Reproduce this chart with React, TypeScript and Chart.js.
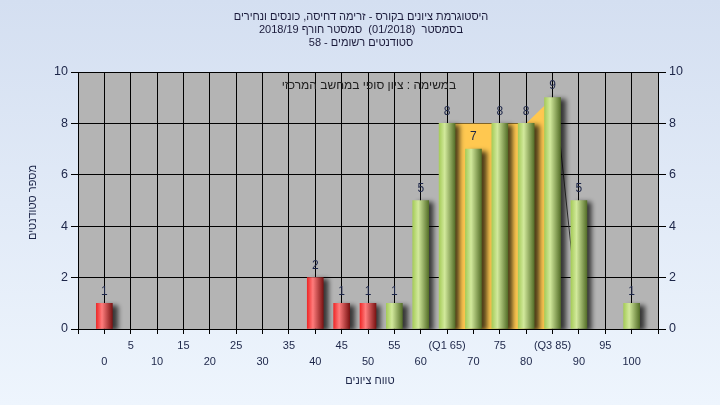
import React, { useEffect, useRef } from 'react';
import { Chart, registerables } from 'chart.js';

Chart.register(...registerables);

// ---- data ----
const scoreBins = [0, 5, 10, 15, 20, 25, 30, 35, 40, 45, 50, 55, 60, 65, 70, 75, 80, 85, 90, 95, 100];
const studentCounts = [1, 0, 0, 0, 0, 0, 0, 0, 2, 1, 1, 1, 5, 8, 7, 8, 8, 9, 5, 0, 1];
const passThreshold = 55;
const quartileX = [65, 70, 75, 80, 85];
const quartileTop = [8, 8, 8, 8, 9];
const whiskerX = [86.5, 88.6];
const whiskerY = [7.1, 3.0];
const yTickValues = [0, 2, 4, 6, 8, 10];
const specialTickLabels: Record<number, string> = { 65: '(Q1 65)', 85: '(Q3 85)' };
const titleLines = [
  'היסטוגרמת ציונים בקורס - זרימה דחיסה, כונסים ונחירים',
  'בסמסטר  (01/2018)  סמסטר חורף 2018/19',
  'סטודנטים רשומים - 58',
];
const annotationText = 'במשימה : ציון סופי במחשב המרכזי';
const xAxisTitle = 'טווח ציונים';
const yAxisTitle = 'מספר סטודנטים';

const FONT = '"Liberation Sans", Arial, sans-serif';
const TEXT_COLOR = '#1c2548';

export default function App() {
  const ref = useRef<HTMLCanvasElement | null>(null);

  useEffect(() => {
    const canvas = ref.current;
    if (!canvas) return;
    Chart.defaults.font.family = FONT;

    const bgPlugin = {
      id: 'bg',
      beforeDraw(chart: any) {
        const c = chart.ctx;
        const g = c.createLinearGradient(0, 0, 0, chart.height);
        g.addColorStop(0, '#d4dff1');
        g.addColorStop(1, '#eef5fd');
        c.save();
        c.fillStyle = g;
        c.fillRect(0, 0, chart.width, chart.height);
        const a = chart.chartArea;
        c.fillStyle = '#b4b4b4';
        c.fillRect(a.left, a.top, a.right - a.left, a.bottom - a.top);
        c.restore();
      },
    };

    const shadowPlugin = {
      id: 'barShadow',
      beforeDatasetDraw(chart: any, args: any) {
        if (args.meta.type === 'bar') {
          const c = chart.ctx;
          c.save();
          c.shadowColor = 'rgba(0,0,0,0.7)';
          c.shadowBlur = 5;
          c.shadowOffsetX = 5;
          c.shadowOffsetY = 2;
        }
      },
      afterDatasetDraw(chart: any, args: any) {
        if (args.meta.type === 'bar') chart.ctx.restore();
      },
    };

    const textPlugin = {
      id: 'texts',
      afterDraw(chart: any) {
        const c = chart.ctx;
        const a = chart.chartArea;
        const xs = chart.scales.x;
        const ys = chart.scales.y;
        c.save();
        // value labels
        c.font = `12px ${FONT}`;
        c.fillStyle = TEXT_COLOR;
        c.textAlign = 'center';
        c.textBaseline = 'middle';
        scoreBins.forEach((b, i) => {
          const v = studentCounts[i];
          if (!v) return;
          c.fillText(String(v), xs.getPixelForValue(b), ys.getPixelForValue(v) - 12);
        });
        // titles
        c.direction = 'rtl';
        c.font = `11px ${FONT}`;
        c.fillStyle = '#1a1a3a';
        titleLines.forEach((t, i) => c.fillText(t, 361, 17 + i * 13));
        c.font = `12px ${FONT}`;
        c.fillStyle = '#202020';
        c.fillText(annotationText, (a.left + a.right) / 2 + 1, a.top + 14);
        c.font = `11px ${FONT}`;
        c.fillStyle = TEXT_COLOR;
        c.fillText(xAxisTitle, (a.left + a.right) / 2 + 2, 381);
        c.translate(33, (a.top + a.bottom) / 2 + 2);
        c.rotate(-Math.PI / 2);
        c.fillText(yAxisTitle, 0, 0);
        c.restore();
      },
    };

    const barColor = (ctx: any) => {
      const chart = ctx.chart;
      const xs = chart.scales && chart.scales.x;
      const v = scoreBins[ctx.dataIndex];
      const fail = v < passThreshold;
      const flat = fail ? '#e03030' : '#a8cc58';
      if (!xs || ctx.type !== 'data') return flat;
      const cx = xs.getPixelForValue(v);
      if (!Number.isFinite(cx)) return flat;
      const g = chart.ctx.createLinearGradient(cx - 8, 0, cx + 8, 0);
      if (fail) {
        g.addColorStop(0, '#ee2a2a');
        g.addColorStop(0.35, '#ff7c7c');
        g.addColorStop(1, '#7c1414');
      } else {
        g.addColorStop(0, '#a6cc5a');
        g.addColorStop(0.35, '#d2e99c');
        g.addColorStop(1, '#56702a');
      }
      return g;
    };

    const chart = new Chart(canvas, {
      type: 'bar',
      data: {
        datasets: [
          {
            type: 'bar',
            order: 0,
            data: scoreBins.map((b, i) => ({ x: b, y: studentCounts[i] || null })) as any,
            backgroundColor: barColor as any,
            barThickness: 16,
            borderWidth: 0,
          },
          {
            type: 'line',
            order: 2,
            data: quartileX.map((x, i) => ({ x, y: quartileTop[i] })) as any,
            backgroundColor: '#ffc850',
            borderColor: '#ffc850',
            borderWidth: 0,
            pointRadius: 0,
            fill: 'origin',
            tension: 0,
          },
          {
            type: 'line',
            order: 1,
            data: whiskerX.map((x, i) => ({ x, y: whiskerY[i] })) as any,
            borderColor: '#333333',
            borderWidth: 1,
            pointRadius: 0,
            fill: false,
          },
        ],
      },
      options: {
        animation: false,
        responsive: false,
        layout: { padding: { top: 72, left: 0, right: 0, bottom: 0 } },
        plugins: {
          legend: { display: false },
          tooltip: { enabled: false },
          title: { display: false },
        },
        scales: {
          x: {
            type: 'linear',
            min: -5,
            max: 105,
            offset: false,
            afterFit: (s: any) => { s.height = 76; },
            afterBuildTicks: (s: any) => {
              const t = [];
              for (let v = -5; v <= 105; v += 5) t.push({ value: v });
              s.ticks = t;
            },
            grid: { color: '#000000', lineWidth: 1, tickLength: 5, drawTicks: true, offset: false },
            border: { color: '#000000', width: 1 },
            ticks: {
              autoSkip: false,
              maxRotation: 0,
              minRotation: 0,
              padding: 4,
              color: TEXT_COLOR,
              font: { size: 11, lineHeight: '16px' as any },
              callback: (value: any) => {
                const v = Number(value);
                if (v < 0 || v > 100) return '';
                const label = specialTickLabels[v] ?? String(v);
                return v % 10 === 5 ? [label, ''] : ['', label];
              },
            },
          },
          y: {
            position: 'left',
            min: 0,
            max: 10,
            afterFit: (s: any) => { s.width = 78; },
            afterBuildTicks: (s: any) => { s.ticks = yTickValues.map((v) => ({ value: v })); },
            grid: { color: '#000000', lineWidth: 1, tickLength: 7 },
            border: { color: '#000000', width: 1 },
            ticks: { padding: 3, color: TEXT_COLOR, font: { size: 12.5 } },
          },
          y2: {
            position: 'right',
            min: 0,
            max: 10,
            afterFit: (s: any) => { s.width = 62; },
            afterBuildTicks: (s: any) => { s.ticks = yTickValues.map((v) => ({ value: v })); },
            grid: { color: '#000000', lineWidth: 1, tickLength: 8, drawOnChartArea: false },
            border: { color: '#000000', width: 1 },
            ticks: { padding: 3, color: TEXT_COLOR, font: { size: 12.5 } },
          },
        },
      } as any,
      plugins: [bgPlugin, shadowPlugin, textPlugin],
    });

    return () => chart.destroy();
  }, []);

  return (
    <div style={{ position: 'fixed', left: 0, top: 0, width: 720, height: 405 }}>
      <canvas ref={ref} width={720} height={405} style={{ width: 720, height: 405, display: 'block' }} />
    </div>
  );
}
